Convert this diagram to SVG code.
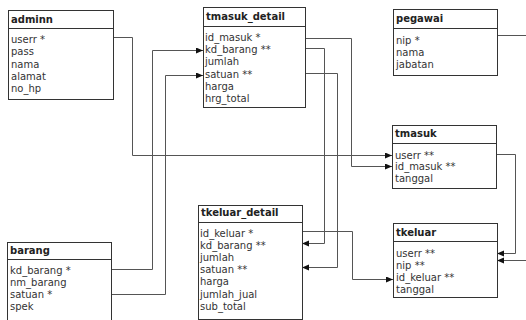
<svg xmlns="http://www.w3.org/2000/svg" width="526" height="320" viewBox="0 0 526 320">
<defs>
<style>
.box{fill:#fff;stroke:#333;stroke-width:1}
.sep{stroke:#333;stroke-width:1}
.t{font-family:"DejaVu Sans",Verdana,sans-serif;font-size:10px;font-weight:bold;fill:#222}
.r{font-family:"DejaVu Sans",Verdana,sans-serif;font-size:10px;fill:#333}
.c{fill:none;stroke:#555;stroke-width:1}
</style>
<marker id="ah" markerUnits="userSpaceOnUse" markerWidth="8" markerHeight="7" refX="7" refY="3" orient="auto">
<path d="M0,0 L7,3 L0,6 z" fill="#111"/>
</marker>
</defs>
<rect width="526" height="320" fill="#fff"/>
<g id="connectors">
<path class="c" d="M113.5,37.5 H132.5 V155.5 H392" marker-end="url(#ah)"/>
<path class="c" d="M111.5,269.5 H152.5 V50.5 H203" marker-end="url(#ah)"/>
<path class="c" d="M111.5,294.5 H165.5 V75.5 H203" marker-end="url(#ah)"/>
<path class="c" d="M305.5,38.5 H351.5 V166.5 H392" marker-end="url(#ah)"/>
<path class="c" d="M305.5,48.5 H324.5 V243.5 H302" marker-end="url(#ah)"/>
<path class="c" d="M305.5,73.5 H337.5 V267.5 H302" marker-end="url(#ah)"/>
<path class="c" d="M302.5,231.5 H352.5 V279.5 H393" marker-end="url(#ah)"/>
<path class="c" d="M496.5,154.5 H515.5 V253.5 H497" marker-end="url(#ah)"/>
<path class="c" d="M497.5,35.5 H530 V260.5 H497" marker-end="url(#ah)"/>
</g>
<g id="adminn">
<rect class="box" x="8.5" y="10.5" width="105" height="89"/>
<line class="sep" x1="8.5" y1="28.5" x2="113.5" y2="28.5"/>
<text class="t" x="11" y="23">adminn</text>
<text class="r" x="11" y="43">userr *</text>
<text class="r" x="11" y="55.3">pass</text>
<text class="r" x="11" y="67.6">nama</text>
<text class="r" x="11" y="79.9">alamat</text>
<text class="r" x="11" y="92.2">no_hp</text>
</g>
<g id="tmasuk_detail">
<rect class="box" x="203.5" y="7.5" width="102" height="100"/>
<line class="sep" x1="203.5" y1="26.5" x2="305.5" y2="26.5"/>
<text class="t" x="206" y="20">tmasuk_detail</text>
<text class="r" x="205" y="41">id_masuk *</text>
<text class="r" x="205" y="53.2">kd_barang **</text>
<text class="r" x="205" y="65.4">jumlah</text>
<text class="r" x="205" y="77.6">satuan **</text>
<text class="r" x="205" y="89.8">harga</text>
<text class="r" x="205" y="102">hrg_total</text>
</g>
<g id="pegawai">
<rect class="box" x="393.5" y="9.5" width="104" height="66"/>
<line class="sep" x1="393.5" y1="28.5" x2="497.5" y2="28.5"/>
<text class="t" x="396" y="22">pegawai</text>
<text class="r" x="396" y="43.5">nip *</text>
<text class="r" x="396" y="55.5">nama</text>
<text class="r" x="396" y="67.5">jabatan</text>
</g>
<g id="tmasuk">
<rect class="box" x="392.5" y="125.5" width="104" height="63"/>
<line class="sep" x1="392.5" y1="143.5" x2="496.5" y2="143.5"/>
<text class="t" x="395" y="137">tmasuk</text>
<text class="r" x="395" y="158.5">userr **</text>
<text class="r" x="395" y="170.3">id_masuk **</text>
<text class="r" x="395" y="182">tanggal</text>
</g>
<g id="tkeluar_detail">
<rect class="box" x="198.5" y="205.5" width="104" height="114"/>
<line class="sep" x1="198.5" y1="222.5" x2="302.5" y2="222.5"/>
<text class="t" x="201" y="216">tkeluar_detail</text>
<text class="r" x="200" y="236.5">id_keluar *</text>
<text class="r" x="200" y="248.7">kd_barang **</text>
<text class="r" x="200" y="260.9">jumlah</text>
<text class="r" x="200" y="273.1">satuan **</text>
<text class="r" x="200" y="285.3">harga</text>
<text class="r" x="200" y="297.5">jumlah_jual</text>
<text class="r" x="200" y="309.7">sub_total</text>
</g>
<g id="tkeluar">
<rect class="box" x="393.5" y="223.5" width="104" height="74"/>
<line class="sep" x1="393.5" y1="241.5" x2="497.5" y2="241.5"/>
<text class="t" x="396" y="236">tkeluar</text>
<text class="r" x="396" y="256.5">userr **</text>
<text class="r" x="396" y="268.5">nip **</text>
<text class="r" x="396" y="280.5">id_keluar **</text>
<text class="r" x="396" y="292.5">tanggal</text>
</g>
<g id="barang">
<rect class="box" x="7.5" y="242.5" width="104" height="82"/>
<line class="sep" x1="7.5" y1="259.5" x2="111.5" y2="259.5"/>
<text class="t" x="10" y="254">barang</text>
<text class="r" x="10" y="273.5">kd_barang *</text>
<text class="r" x="10" y="285.5">nm_barang</text>
<text class="r" x="10" y="297.5">satuan *</text>
<text class="r" x="10" y="309.5">spek</text>
</g>
</svg>
